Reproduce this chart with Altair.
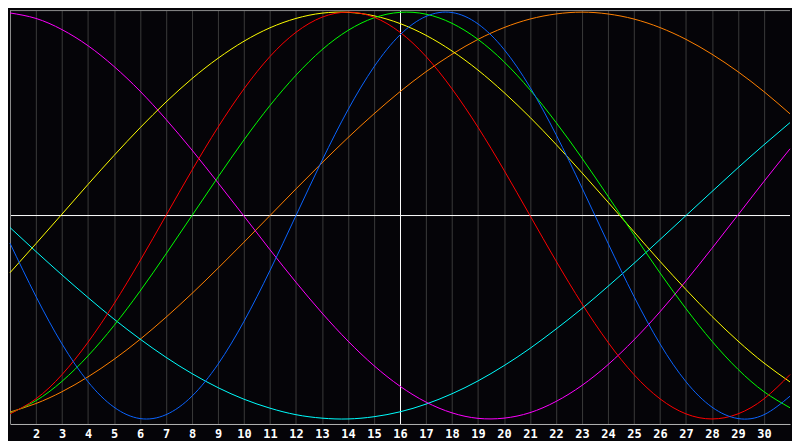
import altair as alt
import pandas as pd

# ---- data (value at each day 1..31) ----
days = list(range(1, 32))

orange = [-0.966, -0.924, -0.866, -0.793, -0.707, -0.609, -0.500, -0.383, -0.259, -0.131,
          0.000, 0.131, 0.259, 0.383, 0.500, 0.609, 0.707, 0.793, 0.866, 0.924,
          0.966, 0.991, 1.000, 0.991, 0.966, 0.924, 0.866, 0.793, 0.707, 0.609, 0.500]

cyan = [-0.059, -0.177, -0.292, -0.403, -0.509, -0.607, -0.697, -0.777, -0.846, -0.903,
        -0.947, -0.979, -0.996, -1.000, -0.989, -0.965, -0.927, -0.876, -0.813, -0.738,
        -0.653, -0.558, -0.457, -0.348, -0.235, -0.118, 0.000, 0.118, 0.235, 0.348, 0.457]

magenta = [0.996, 0.969, 0.914, 0.835, 0.733, 0.612, 0.473, 0.322, 0.161, -0.003,
           -0.168, -0.328, -0.479, -0.617, -0.738, -0.839, -0.917, -0.970, -0.997, -0.996,
           -0.969, -0.914, -0.835, -0.733, -0.611, -0.473, -0.321, -0.161, 0.003, 0.168, 0.328]

yellow = [-0.281, -0.138, 0.007, 0.153, 0.295, 0.431, 0.558, 0.673, 0.773, 0.857,
          0.923, 0.969, 0.995, 0.999, 0.982, 0.944, 0.886, 0.809, 0.715, 0.605,
          0.483, 0.350, 0.210, 0.066, -0.080, -0.225, -0.364, -0.496, -0.617, -0.725, -0.818]

green = [-0.972, -0.910, -0.815, -0.690, -0.541, -0.372, -0.189, 0.000, 0.189, 0.372,
         0.541, 0.690, 0.815, 0.910, 0.972, 0.999, 0.990, 0.945, 0.866, 0.756,
         0.618, 0.458, 0.282, 0.095, -0.095, -0.282, -0.458, -0.618, -0.756, -0.866, -0.945]

red = [-0.975, -0.901, -0.782, -0.623, -0.434, -0.223, 0.000, 0.223, 0.434, 0.623,
       0.782, 0.901, 0.975, 1.000, 0.975, 0.901, 0.782, 0.623, 0.434, 0.223,
       0.000, -0.223, -0.434, -0.623, -0.782, -0.901, -0.975, -1.000, -0.975, -0.901, -0.782]

blue = [-0.136, -0.398, -0.631, -0.817, -0.942, -0.998, -0.979, -0.888, -0.731, -0.520,
        -0.270, 0.000, 0.270, 0.520, 0.731, 0.888, 0.979, 0.998, 0.942, 0.817,
        0.631, 0.398, 0.136, -0.136, -0.398, -0.631, -0.817, -0.942, -0.998, -0.979, -0.888]

series_names = ["orange", "cyan", "magenta", "yellow", "green", "red", "blue"]
series_values = [orange, cyan, magenta, yellow, green, red, blue]
series_colors = ["#ff8000", "#00ffff", "#ff00ff", "#ffff00", "#00ff00", "#ff0000", "#0a64ff"]

tick_days = list(range(2, 31))
today = [16]
zero_line = [0]

# ---- build table ----
rows = []
for k, (name, vals) in enumerate(zip(series_names, series_values)):
    for d, v in zip(days, vals):
        rows.append({"day": d, "value": v, "series": name, "k": k})
df = pd.DataFrame(rows)

W, H = 784, 416
x_scale = alt.Scale(domain=[1, 31], nice=False, zero=False)
y_scale = alt.Scale(domain=[-1.02468, 1.01], nice=False, zero=False)

x_axis = alt.Axis(
    values=tick_days, grid=True, gridColor="#3a3a3a", gridWidth=1,
    domainColor="#b4b4b4", domainWidth=1, ticks=False,
    labelColor="#ffffff", labelFont="DejaVu Sans Mono", labelFontWeight="bold",
    labelFontSize=12, labelPadding=5, labelFlush=False, labelOverlap=False,
    labelBound=False, title=None, format="d",
)

hline = alt.Chart(pd.DataFrame({"v": zero_line})).mark_rule(color="#ffffff", strokeWidth=1).encode(
    y=alt.Y("v:Q", scale=y_scale, axis=None)
)
vline = alt.Chart(pd.DataFrame({"d": today})).mark_rule(
    color="#ffffff", strokeWidth=1, xOffset=0.5
).encode(
    x=alt.X("d:Q", scale=x_scale, axis=x_axis)
)

top_border = alt.Chart(pd.DataFrame({"a": [0]})).mark_rule(color="#8c8c8c", strokeWidth=1).encode(
    x=alt.value(0), x2=alt.value(W), y=alt.value(0.5)
)
left_border = alt.Chart(pd.DataFrame({"a": [0]})).mark_rule(color="#8c8c8c", strokeWidth=1).encode(
    x=alt.value(0.5), y=alt.value(0), y2=alt.value(H)
)

lines = alt.Chart(df).mark_line(strokeWidth=1, interpolate="natural").encode(
    x=alt.X("day:Q", scale=x_scale, axis=x_axis),
    y=alt.Y("value:Q", scale=y_scale, axis=None),
    color=alt.Color("series:N", scale=alt.Scale(domain=series_names, range=series_colors), legend=None),
    order=alt.Order("k:Q"),
)

chart = alt.layer(hline, vline, top_border, left_border, lines).properties(
    width=W, height=H, padding=0, background="#050408"
).configure_view(stroke=None, fill="#050408")

chart.save("out.html", embed_options={"renderer": "svg", "actions": False})
